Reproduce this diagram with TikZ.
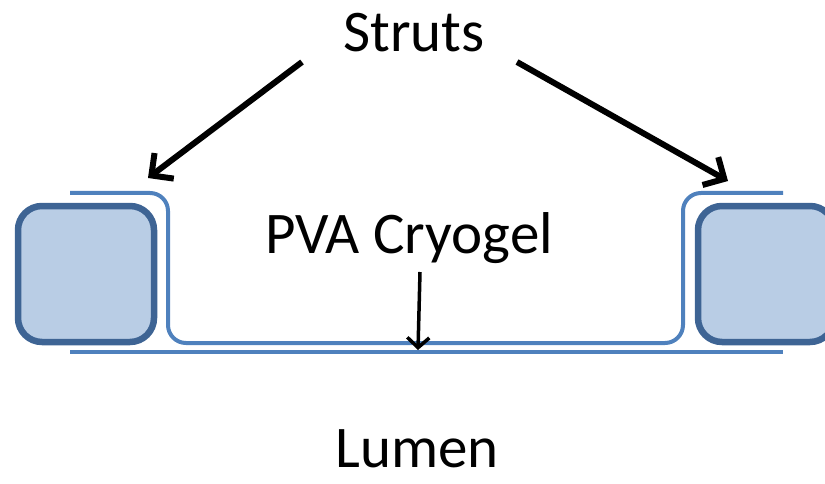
\documentclass[tikz,border=0pt]{standalone}
\usepackage{fontspec}
\setmainfont{Carlito}
\usetikzlibrary{arrows.meta}
\definecolor{strutfill}{HTML}{B9CDE5}
\definecolor{strutdraw}{HTML}{3E6494}
\definecolor{gelblue}{HTML}{4F81BD}
\tikzset{
  strut/.style={draw=strutdraw, fill=strutfill, line width=6.5pt, rounded corners=24pt,
    minimum width=136pt, minimum height=136pt, inner sep=0pt},
  gel/.style={draw=gelblue, line width=4pt},
  label/.style={font=\fontsize{59}{70}\selectfont, inner sep=0pt, anchor=base},
  bigarrow/.style={line width=6pt, -{Straight Barb[length=16pt, width=32pt, line width=6pt]}},
  smallarrow/.style={line width=3.5pt, -{Straight Barb[length=10pt, width=22pt, line width=3.5pt]}}
}
\begin{document}
\begin{tikzpicture}[x=1pt, y=-1pt]
\useasboundingbox (0,0) rectangle (825,484);
\begin{scope}
\clip (0,0) rectangle (825,484);
\node[strut] (ls) at (86,274) {};
\node[strut] (rs) at (766,274) {};
\end{scope}
% cryogel membrane
\draw[gel, rounded corners=18pt] (70,193) -- (168,193) -- (168,343) -- (683,343) -- (683,193) -- (783,193);
\draw[gel] (70,352) coordinate (ll) -- (783,352) coordinate (lr);
% labels
\node[label] (struts) at (414,52) {Struts};
\node[label] (pva) at (409,253) {PVA Cryogel};
\node[label] (lumen) at (417,467) {Lumen};
% arrow ends
\coordinate (la0) at (302,62);
\coordinate (la1) at (148,178);
\coordinate (ra0) at (517,62);
\coordinate (ra1) at (728,181);
\coordinate (ca0) at (420,272);
\coordinate (ca1) at (418,350);
\draw[bigarrow] (la0) -- (la1);
\draw[bigarrow] (ra0) -- (ra1);
\draw[smallarrow] (ca0) -- (ca1);
\end{tikzpicture}
\end{document}
